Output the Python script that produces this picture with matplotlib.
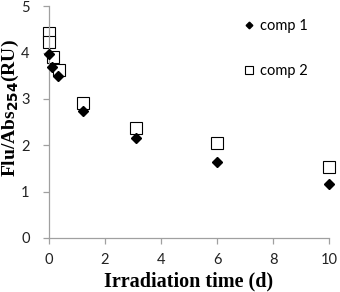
"""Flu/Abs254 ratio versus irradiation time for two compounds."""

import matplotlib

matplotlib.use("Agg")
import matplotlib.pyplot as plt

comp1_time = [0.0, 0.1, 0.33, 1.2, 3.1, 6.0, 10.0]
comp1_ratio = [3.97, 3.68, 3.50, 2.74, 2.16, 1.64, 1.16]

comp2_time = [0.0, 0.0, 0.15, 0.35, 1.2, 3.1, 6.0, 10.0]
comp2_ratio = [4.42, 4.23, 3.90, 3.62, 2.91, 2.37, 2.05, 1.53]

x_ticks = [0, 2, 4, 6, 8, 10]
y_ticks = [0, 1, 2, 3, 4, 5]


def main() -> None:
    fig = plt.figure(figsize=(3.4, 2.92), dpi=100)
    ax = fig.add_axes([0.144, 0.185, 0.824, 0.794])

    tick_font = "Lato"
    label_font = "Liberation Serif"

    ax.plot(comp1_time, comp1_ratio, ls="none", marker="D", ms=5.2,
            color="black", label="comp 1", zorder=3, clip_on=False)
    ax.plot(comp2_time, comp2_ratio, ls="none", marker="s", ms=8.2,
            mfc="white", mec="black", mew=0.8, label="comp 2", zorder=2,
            clip_on=False)

    ax.set_xlim(0, 10)
    ax.set_ylim(0, 5)
    ax.set_xticks(x_ticks)
    ax.set_yticks(y_ticks)
    for lbl in ax.get_xticklabels() + ax.get_yticklabels():
        lbl.set_fontfamily(tick_font)
        lbl.set_fontsize(10.5)
        lbl.set_color("#222222")

    for side in ("top", "right"):
        ax.spines[side].set_visible(False)
    for side in ("left", "bottom"):
        ax.spines[side].set_color("#a0a0a0")
        ax.spines[side].set_linewidth(0.9)
    ax.tick_params(direction="out", length=4, width=0.9, color="#a0a0a0")
    ax.tick_params(axis="x", pad=7)
    ax.tick_params(axis="y", pad=10)

    ax.set_xlabel("Irradiation time (d)", fontfamily=label_font,
                  fontweight="bold", fontsize=14.5)
    ax.set_ylabel("Flu/Abs$_{\\mathbf{254}}$(RU)", fontfamily=label_font,
                  fontweight="bold", fontsize=14)
    ax.xaxis.set_label_coords(0.5, -0.145)
    ax.yaxis.set_label_coords(-0.1, 0.56)

    leg = ax.legend(loc="upper left", bbox_to_anchor=(0.65, 1.0), frameon=False,
                    handlelength=0.6, handletextpad=0.5, labelspacing=2.1,
                    markerscale=0.65, prop={"family": tick_font, "size": 10.5})
    leg.set_zorder(5)

    fig.savefig("out.png", dpi=100)
    plt.close(fig)


if __name__ == "__main__":
    main()
